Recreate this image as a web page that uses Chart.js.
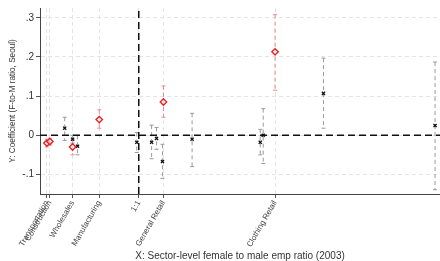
<!DOCTYPE html>
<html>
<head>
<meta charset="utf-8">
<script src="https://cdn.jsdelivr.net/npm/chart.js@4"></script>
<style>
  html, body { margin: 0; padding: 0; background: #fff; }
  #wrap { width: 440px; height: 261px; }
</style>
</head>
<body>
<div id="wrap"><canvas id="c"></canvas></div>
<script>
// x tick categories (sector female-to-male ratio)
const tickLabels = ['Transportation', 'Construction', 'Wholesales', 'Manufacturing', '1:1', 'General Retail', 'Clothing Retail'];
const tickRatios = [0.07, 0.1, 0.33, 0.6, 1, 1.25, 2.38];

// red series (hollow diamonds)
const redX = [0.07, 0.1, 0.33, 0.6, 1.25, 2.38];
const redY = [-0.02, -0.016, -0.03, 0.04, 0.085, 0.213];
const redLo = [-0.03, -0.025, -0.05, 0.018, 0.046, 0.115];
const redHi = [-0.01, -0.008, -0.01, 0.065, 0.126, 0.308];

// black series (x markers)
const blkX = [0.25, 0.33, 0.38, 0.98, 1.13, 1.18, 1.24, 1.54, 2.23, 2.26, 2.87, 4.0];
const blkY = [0.018, -0.01, -0.028, -0.018, -0.018, -0.008, -0.067, -0.01, -0.018, 0.0, 0.107, 0.025];
const blkLo = [-0.013, -0.02, -0.05, -0.044, -0.06, -0.036, -0.11, -0.08, -0.05, -0.072, 0.018, -0.139];
const blkHi = [0.046, 0.0, 0.0, 0.007, 0.026, 0.02, -0.023, 0.056, 0.015, 0.068, 0.197, 0.187];

const yTicks = [-0.1, 0, 0.1, 0.2, 0.3];
const yTickLabels = ['-.1', '0', '.1', '.2', '.3'];

function toPoints(xs, ys, lo, hi) {
    return xs.map((x, i) => ({ x: x, y: ys[i], lo: lo[i], hi: hi[i] }));
}

const errorBars = {
    id: 'errorBars',
    beforeDatasetsDraw(chart) {
        const ctx = chart.ctx;
        const xs = chart.scales.x, ys = chart.scales.y;
        chart.data.datasets.forEach((ds) => {
            if (!ds.barColor) return;
            ctx.save();
            ctx.strokeStyle = ds.barColor;
            ctx.lineWidth = 1;
            ds.data.forEach((p) => {
                const px = xs.getPixelForValue(p.x);
                const top = ys.getPixelForValue(p.hi);
                const bot = ys.getPixelForValue(p.lo);
                ctx.setLineDash([4, 3]);
                ctx.beginPath();
                ctx.moveTo(px, top);
                ctx.lineTo(px, bot);
                ctx.stroke();
                ctx.setLineDash([]);
                ctx.beginPath();
                ctx.moveTo(px - 2, top); ctx.lineTo(px + 2, top);
                ctx.moveTo(px - 2, bot); ctx.lineTo(px + 2, bot);
                ctx.stroke();
            });
            ctx.restore();
        });
    }
};

Chart.defaults.font.family = '"Liberation Sans", Arial, sans-serif';
Chart.defaults.color = '#333';

new Chart(document.getElementById('c'), {
    type: 'scatter',
    data: {
        datasets: [
            {
                type: 'line',
                data: [{ x: 0, y: 0 }, { x: 4.05, y: 0 }],
                borderColor: '#111',
                borderWidth: 1.5,
                borderDash: [7, 4],
                pointRadius: 0,
                order: 3
            },
            {
                type: 'line',
                data: [{ x: 1, y: -0.15 }, { x: 1, y: 0.325 }],
                borderColor: '#111',
                borderWidth: 1.5,
                borderDash: [7, 4],
                pointRadius: 0,
                order: 3
            },
            {
                data: toPoints(blkX, blkY, blkLo, blkHi),
                pointStyle: 'crossRot',
                pointRadius: 2.2,
                borderColor: '#111',
                borderWidth: 1.3,
                barColor: '#9a9a9a',
                order: 1
            },
            {
                data: toPoints(redX, redY, redLo, redHi),
                pointStyle: 'rectRot',
                pointRadius: 3.2,
                borderColor: '#e0262a',
                backgroundColor: 'rgba(255,255,255,0.6)',
                borderWidth: 1.4,
                barColor: '#ee8a8a',
                order: 0
            }
        ]
    },
    options: {
        responsive: true,
        maintainAspectRatio: false,
        animation: false,
        layout: { autoPadding: false, padding: { top: 8, right: 0, left: 0, bottom: 0 } },
        plugins: { legend: { display: false }, tooltip: { enabled: false } },
        scales: {
            x: {
                type: 'linear',
                min: 0,
                max: 4.05,
                afterBuildTicks: (s) => { s.ticks = tickRatios.map(v => ({ value: v })); },
                afterFit: (s) => { s.height = 67; },
                ticks: {
                    autoSkip: false,
                    minRotation: 60,
                    maxRotation: 60,
                    padding: 1,
                    font: { size: 8 },
                    color: '#444',
                    callback: (v, i) => tickLabels[i]
                },
                grid: {
                    color: '#e4e4e4',
                    tickColor: '#555',
                    tickLength: 4
                },
                border: { color: '#444', width: 1, dash: [4, 3] },
                title: {
                    display: true,
                    text: 'X: Sector-level female to male emp ratio (2003)',
                    font: { size: 10 },
                    color: '#333',
                    padding: { top: 0, bottom: -1 }
                }
            },
            y: {
                min: -0.15,
                max: 0.325,
                afterBuildTicks: (s) => { s.ticks = yTicks.map(v => ({ value: v })); },
                afterFit: (s) => { s.width = 40; },
                ticks: {
                    padding: 2,
                    font: { size: 10 },
                    color: '#333',
                    callback: (v, i) => yTickLabels[i]
                },
                grid: {
                    color: '#e4e4e4',
                    tickColor: '#555',
                    tickLength: 4
                },
                border: { color: '#444', width: 1, dash: [4, 3] },
                title: {
                    display: true,
                    text: 'Y: Coefficient (F-to-M ratio, Seoul)',
                    font: { size: 8.2 },
                    color: '#333',
                    padding: { top: 8, bottom: 8 }
                }
            }
        }
    },
    plugins: [errorBars]
});
</script>
</body>
</html>
